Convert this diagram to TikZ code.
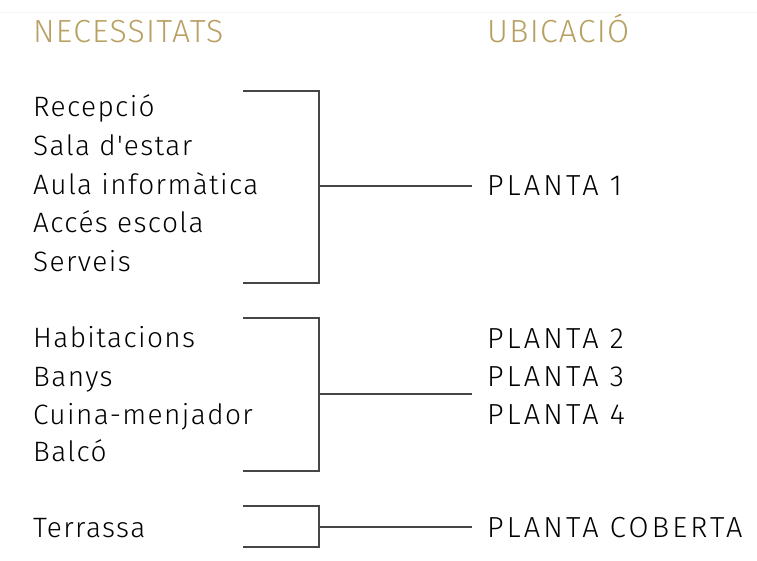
\documentclass[tikz,border=0pt]{standalone}
\usepackage{fontspec}
\setmainfont{Fira Sans Light}
\newfontfamily\capsfont[LetterSpace=11]{Fira Sans Light}
\newfontfamily\lowfont[LetterSpace=5]{Fira Sans Light}
\newfontfamily\headfont[LetterSpace=4]{Fira Sans Light}
\definecolor{gold}{RGB}{184,160,98}
\definecolor{ln}{RGB}{70,70,70}
\begin{document}
\begin{tikzpicture}[x=1pt,y=-1pt,
  lbl/.style={anchor=base west,inner sep=0pt,font=\lowfont\fontsize{28}{28}\selectfont,text=black},
  capslbl/.style={anchor=base west,inner sep=0pt,font=\capsfont\fontsize{29}{29}\selectfont,text=black},
  head/.style={anchor=base west,inner sep=0pt,font=\headfont\fontsize{32}{32}\selectfont,text=gold},
  br/.style={draw=ln,line width=1.1pt}]
\useasboundingbox (0,0) rectangle (757,561);
\draw[black!4,line width=1pt] (0,13) -- (757,13);
\node[head] (h1) at (33,43) {NECESSITATS};
\node[head] (h2) at (487,43) {UBICACIÓ};
\node[lbl] (a1) at (33,117) {Recepció};
\node[lbl] (a2) at (33,156) {Sala d'estar};
\node[lbl] (a3) at (33,195) {Aula informàtica};
\node[lbl] (a4) at (33,233) {Accés escola};
\node[lbl] (a5) at (33,271) {Serveis};
\node[lbl] (b1) at (33,347) {Habitacions};
\node[lbl] (b2) at (33,386) {Banys};
\node[lbl] (b3) at (33,424) {Cuina-menjador};
\node[lbl] (b4) at (33,461) {Balcó};
\node[lbl] (c1) at (33,537) {Terrassa};
\node[capslbl] (p1) at (487,196) {PLANTA 1};
\node[capslbl] (p2) at (487,348) {PLANTA 2};
\node[capslbl] (p3) at (487,386) {PLANTA 3};
\node[capslbl] (p4) at (487,424) {PLANTA 4};
\node[capslbl] (pc) at (487,537) {PLANTA COBERTA};
% group 1
\coordinate (g1t) at (243,91); \coordinate (g1b) at (243,283);
\coordinate (g1m) at (319,186); \coordinate (g1e) at (472,186);
\draw[br] (g1t) -- (319,91) -- (319,283) -- (g1b);
\draw[br] (g1m) -- (g1e);
% group 2
\coordinate (g2t) at (243,318); \coordinate (g2b) at (243,471);
\coordinate (g2m) at (319,394); \coordinate (g2e) at (472,394);
\draw[br] (g2t) -- (319,318) -- (319,471) -- (g2b);
\draw[br] (g2m) -- (g2e);
% group 3
\coordinate (g3t) at (243,506); \coordinate (g3b) at (243,547);
\coordinate (g3m) at (319,527); \coordinate (g3e) at (472,527);
\draw[br] (g3t) -- (319,506) -- (319,547) -- (g3b);
\draw[br] (g3m) -- (g3e);
\end{tikzpicture}
\end{document}
